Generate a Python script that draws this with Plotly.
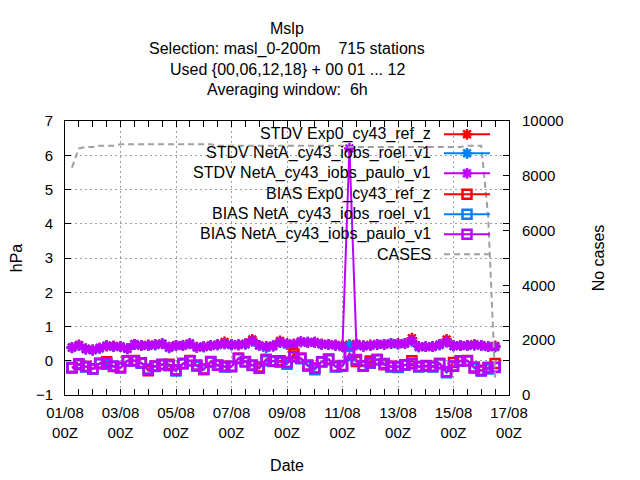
import pandas as pd
import plotly.graph_objects as go

# 6-hourly times, 01/08 06Z .. 16/08 12Z
times = pd.date_range("2017-08-01 06:00", "2017-08-16 12:00", freq="6h")

stdv_paulo = [0.39, 0.45, 0.34, 0.31, 0.37, 0.44, 0.42, 0.41, 0.35, 0.48, 0.45, 0.45, 0.47, 0.50, 0.39, 0.45,
              0.45, 0.50, 0.39, 0.41, 0.44, 0.47, 0.49, 0.47, 0.47, 0.49, 0.58, 0.45, 0.41, 0.43, 0.54,
              0.50, 0.48, 0.56, 0.54, 0.54, 0.48, 0.48, 0.45, 0.41, 6.20, 0.47, 0.43, 0.45, 0.48, 0.48, 0.50,
              0.50, 0.50, 0.58, 0.41, 0.41, 0.41, 0.47, 0.55, 0.44, 0.44, 0.45, 0.46, 0.45, 0.41, 0.41]
stdv_ref = [0.38, 0.46, 0.35, 0.32, 0.37, 0.43, 0.43, 0.42, 0.36, 0.48, 0.44, 0.46, 0.47, 0.49, 0.40, 0.45,
            0.44, 0.50, 0.40, 0.41, 0.45, 0.47, 0.55, 0.47, 0.46, 0.50, 0.62, 0.45, 0.42, 0.44, 0.58,
            0.50, 0.49, 0.55, 0.53, 0.54, 0.49, 0.47, 0.46, 0.45, 0.47, 0.49, 0.43, 0.46, 0.48, 0.47, 0.50,
            0.50, 0.51, 0.66, 0.42, 0.41, 0.42, 0.47, 0.62, 0.44, 0.45, 0.45, 0.48, 0.45, 0.42, 0.43]
stdv_roel = [0.39, 0.44, 0.34, 0.31, 0.36, 0.44, 0.41, 0.41, 0.35, 0.47, 0.45, 0.44, 0.46, 0.50, 0.38, 0.44,
             0.45, 0.49, 0.39, 0.40, 0.44, 0.46, 0.49, 0.46, 0.47, 0.48, 0.57, 0.44, 0.38, 0.43, 0.53,
             0.47, 0.48, 0.55, 0.54, 0.53, 0.48, 0.47, 0.45, 0.41, 0.45, 0.46, 0.43, 0.44, 0.47, 0.48, 0.51,
             0.48, 0.50, 0.57, 0.40, 0.41, 0.41, 0.46, 0.54, 0.43, 0.44, 0.44, 0.46, 0.44, 0.41, 0.40]

bias_paulo = [-0.20, -0.09, -0.17, -0.24, -0.08, -0.06, -0.16, -0.20, 0.00, 0.00, -0.06, -0.25, -0.16, -0.11, -0.14, -0.27,
              -0.08, 0.00, -0.13, -0.25, -0.03, -0.13, -0.17, -0.17, 0.07, -0.03, -0.13, -0.22, 0.04, -0.01, -0.03,
              -0.05, 0.12, 0.07, -0.13, -0.22, -0.03, 0.04, -0.17, -0.15, 0.21, 0.04, -0.15, -0.06, 0.04, -0.08, -0.17,
              -0.17, -0.12, -0.08, -0.17, -0.15, -0.17, -0.08, -0.32, -0.15, 0.00, 0.00, -0.19, -0.29, -0.20, -0.19]
bias_ref = [-0.21, -0.12, -0.17, -0.23, -0.07, -0.03, -0.17, -0.20, 0.00, 0.01, -0.06, -0.29, -0.15, -0.11, -0.10, -0.27,
            -0.08, 0.01, -0.13, -0.24, -0.02, -0.13, -0.16, -0.17, 0.07, -0.02, -0.13, -0.18, 0.04, -0.01, 0.00,
            -0.05, 0.20, 0.07, -0.13, -0.21, -0.03, 0.05, -0.17, -0.14, 0.20, -0.02, -0.15, -0.01, 0.04, -0.12, -0.17,
            -0.17, -0.12, 0.00, -0.17, -0.14, -0.16, -0.08, -0.32, -0.05, 0.00, 0.01, -0.19, -0.28, -0.20, -0.08]
bias_roel = [-0.20, -0.09, -0.18, -0.24, -0.09, -0.10, -0.16, -0.21, 0.00, 0.00, -0.07, -0.25, -0.17, -0.11, -0.14, -0.30,
             -0.09, 0.00, -0.16, -0.26, -0.04, -0.13, -0.18, -0.17, 0.06, -0.03, -0.14, -0.22, 0.00, -0.02, -0.04,
             -0.10, 0.12, 0.06, -0.16, -0.26, -0.03, 0.03, -0.18, -0.15, 0.15, 0.03, -0.16, -0.07, 0.03, -0.09, -0.18,
             -0.20, -0.13, -0.09, -0.18, -0.16, -0.18, -0.09, -0.35, -0.16, -0.01, 0.00, -0.22, -0.30, -0.24, -0.20]

cases = [8300, 9000, 9050, 9050, 9100, 9100, 9100, 9150, 9150, 9150, 9150, 9150, 9150, 9150, 9150, 9150,
         9150, 9150, 9150, 9150, 9150, 9100, 9100, 9100, 9100, 9100, 9100, 9100, 9100, 9100, 9100,
         9100, 9100, 9100, 9100, 9100, 9100, 9100, 9100, 9100, 9050, 9050, 9050, 9050, 9050, 9050, 9050,
         9050, 9050, 9050, 9050, 9050, 9050, 9050, 9050, 9050, 9050, 9100, 9100, 9100, 6500, 600]

red = "#ff0000"
blue = "#0080ff"
purple = "#c000ff"
grey = "#a0a0a0"
FONT = "Liberation Sans, Arial, sans-serif"
TXT = 16

series = [
    ("STDV Exp0_cy43_ref_z", stdv_ref, red, "asterisk-open"),
    ("STDV NetA_cy43_iobs_roel_v1", stdv_roel, blue, "asterisk-open"),
    ("STDV NetA_cy43_iobs_paulo_v1", stdv_paulo, purple, "asterisk-open"),
    ("BIAS Exp0_cy43_ref_z", bias_ref, red, "square-open"),
    ("BIAS NetA_cy43_iobs_roel_v1", bias_roel, blue, "square-open"),
    ("BIAS NetA_cy43_iobs_paulo_v1", bias_paulo, purple, "square-open"),
]

fig = go.Figure()
for name, vals, col, sym in series:
    fig.add_trace(go.Scatter(x=times, y=vals, name=name, mode="lines+markers",
                             line=dict(color=col, width=2),
                             marker=dict(symbol=sym, size=9, color=col, line=dict(color=col, width=2.5)),
                             showlegend=False))
fig.add_trace(go.Scatter(x=times, y=cases, name="CASES", yaxis="y2", mode="lines",
                         line=dict(color=grey, width=2, dash="6px,4px"), showlegend=False))

# gnuplot-like key: text on the left, sample on the right
legend_rows = [0.9515, 0.882, 0.809, 0.733, 0.660, 0.587, 0.514]
for i, (name, vals, col, sym) in enumerate(series):
    yy = legend_rows[i]
    fig.add_trace(go.Scatter(x=[0.8536, 0.9572], y=[yy, yy], xaxis="x3", yaxis="y3", mode="lines",
                             line=dict(color=col, width=2), showlegend=False, hoverinfo="skip"))
    fig.add_trace(go.Scatter(x=[0.9054], y=[yy], xaxis="x3", yaxis="y3", mode="markers",
                             marker=dict(symbol=sym, size=9, color=col, line=dict(color=col, width=2.5)),
                             showlegend=False, hoverinfo="skip"))
    fig.add_annotation(x=0.8266, y=yy, xref="paper", yref="paper", text=name, showarrow=False,
                       xanchor="right", yanchor="middle", borderpad=0, font=dict(size=TXT, color="black"))
yy = legend_rows[6]
fig.add_trace(go.Scatter(x=[0.8536, 0.9572], y=[yy, yy], xaxis="x3", yaxis="y3", mode="lines",
                         line=dict(color=grey, width=2, dash="6px,4px"), showlegend=False, hoverinfo="skip"))
fig.add_annotation(x=0.8266, y=yy, xref="paper", yref="paper", text="CASES", showarrow=False,
                   xanchor="right", yanchor="middle", borderpad=0, font=dict(size=TXT, color="black"))

# key background hides the grid
fig.add_shape(type="rect", xref="paper", yref="paper", x0=0.207, x1=0.995, y0=0.485, y1=0.999,
              fillcolor="white", line=dict(width=0), layer="between")

title_lines = ["Mslp", "Selection: masl_0-200m\u00a0\u00a0\u00a0\u00a0715 stations",
               "Used {00,06,12,18} + 00 01 ... 12", "Averaging window:\u00a0\u00a06h"]
title_y = [28, 49, 69, 89]
for txt, ypx in zip(title_lines, title_y):
    fig.add_annotation(x=0.5, y=(395 - ypx) / 274.3, xref="paper", yref="paper", text=txt,
                       showarrow=False, xanchor="center", yanchor="middle", font=dict(size=TXT, color="black"))

tick_dates = pd.date_range("2017-08-01", "2017-08-17", freq="2D")
tick_text = [d.strftime("%d/%m") + "<br>00Z" for d in tick_dates]

# page body adds an 8px offset, so the figure is 8px smaller on each side
fig.update_layout(
    width=632, height=472,
    margin=dict(l=57, r=131, t=113, b=85),
    paper_bgcolor="white", plot_bgcolor="white",
    font=dict(family=FONT, size=15, color="black"),
    xaxis=dict(type="date", range=["2017-08-01", "2017-08-17"], tickvals=tick_dates, ticktext=tick_text,
               ticks="inside", ticklen=6, tickcolor="black", showline=True, linecolor="black", linewidth=1,
               mirror="allticks", showgrid=True, gridcolor=grey, griddash="2px,3px", gridwidth=1,
               zeroline=False, ticklabelstandoff=4, automargin=False, tickfont=dict(size=15),
               minor=dict(dtick=12 * 3600 * 1000, ticks="inside", ticklen=3, tickcolor="black", showgrid=False),
               title=dict(text="Date", standoff=20, font=dict(size=TXT))),
    yaxis=dict(range=[-1, 7], dtick=1, ticks="inside", ticklen=6, tickcolor="black", showline=True,
               linecolor="black", linewidth=1, mirror="allticks", showgrid=True, gridcolor=grey,
               griddash="2px,3px", gridwidth=1, zeroline=False, ticklabelstandoff=8, automargin=False,
               tickfont=dict(size=15), title=dict(text="hPa", standoff=10, font=dict(size=TXT))),
    yaxis2=dict(range=[0, 10000], dtick=2000, overlaying="y", side="right", ticks="inside", ticklen=6,
                tickcolor="black", showgrid=False, zeroline=False, ticklabelstandoff=12, tickformat="d",
                automargin=False, tickfont=dict(size=15),
                title=dict(text="No cases", standoff=30, font=dict(size=TXT))),
    xaxis3=dict(range=[0, 1], overlaying="x", visible=False, fixedrange=True),
    yaxis3=dict(range=[0, 1], overlaying="y", visible=False, fixedrange=True),
    showlegend=False,
)

fig.write_html("out.html")
